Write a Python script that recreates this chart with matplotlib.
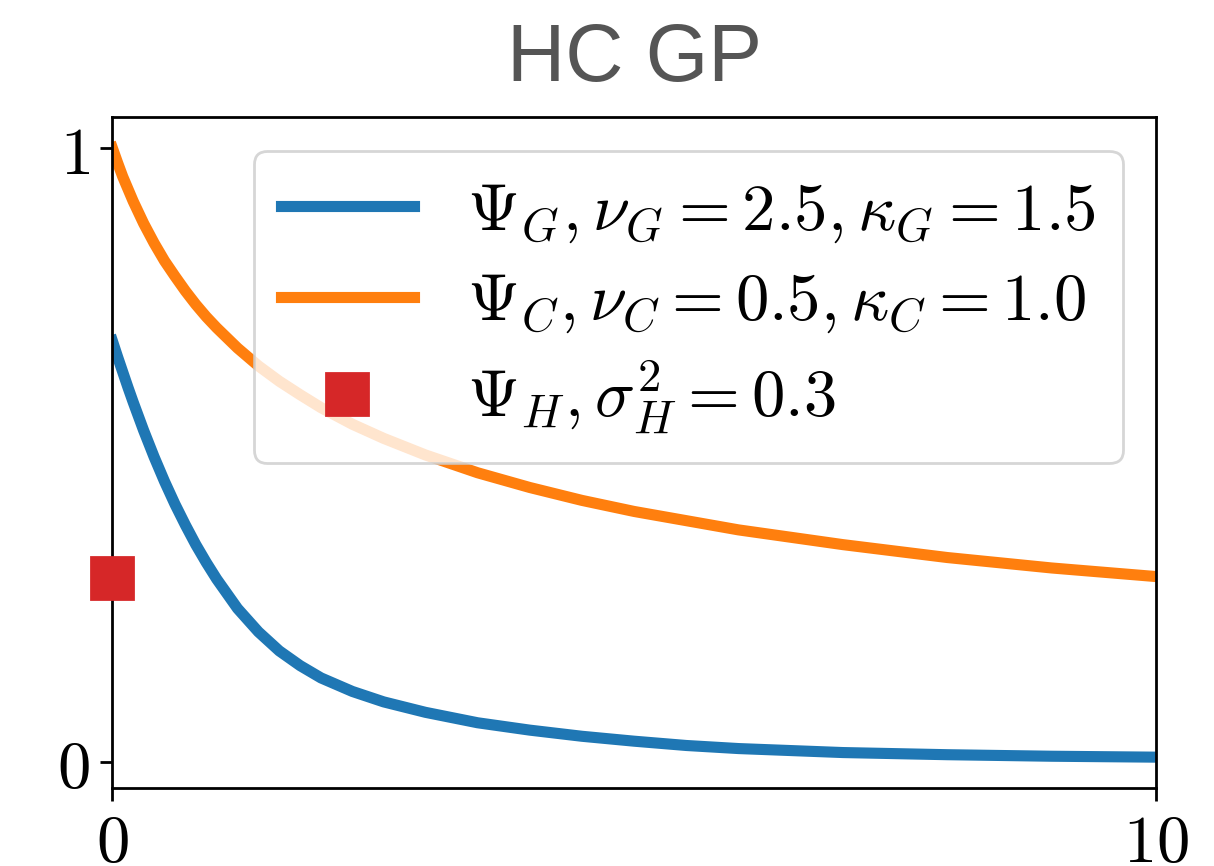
import matplotlib
matplotlib.use("Agg")
import matplotlib.pyplot as plt

plt.rcParams["mathtext.fontset"] = "cm"
plt.rcParams["font.size"] = 24

# values
x_g = [0.0, 0.05, 0.1, 0.15, 0.2, 0.3, 0.4, 0.5, 0.6, 0.7, 0.8, 0.9, 1.0,
       1.2, 1.4, 1.6, 1.8, 2.0, 2.3, 2.6, 3.0, 3.5, 4.0, 4.5, 5.0, 5.5, 6.0,
       7.0, 8.0, 9.0, 10.0]
psi_g = [0.686, 0.66, 0.635, 0.61, 0.586, 0.54, 0.497, 0.457, 0.42, 0.386,
         0.354, 0.325, 0.298, 0.25, 0.212, 0.181, 0.157, 0.137, 0.115, 0.098,
         0.081, 0.064, 0.052, 0.042, 0.034, 0.027, 0.022, 0.0155, 0.012,
         0.0095, 0.008]

x_c = [0.0, 0.05, 0.1, 0.15, 0.2, 0.3, 0.4, 0.5, 0.6, 0.7, 0.8, 0.9, 1.0,
       1.2, 1.4, 1.6, 1.8, 2.0, 2.3, 2.6, 3.0, 3.5, 4.0, 4.5, 5.0, 6.0, 7.0,
       8.0, 9.0, 10.0]
psi_c = [1.0, 0.976, 0.953, 0.933, 0.913, 0.877, 0.845, 0.816, 0.791, 0.767,
         0.745, 0.725, 0.707, 0.674, 0.645, 0.62, 0.598, 0.577, 0.55, 0.527,
         0.5, 0.471, 0.447, 0.426, 0.408, 0.378, 0.354, 0.333, 0.316, 0.302]

x_h = [0.0]
psi_h = [0.3]

labels = [r"$\Psi_G, \nu_G = 2.5, \kappa_G = 1.5$",
          r"$\Psi_C, \nu_C = 0.5, \kappa_C = 1.0$",
          r"$\Psi_H, \sigma^2_H = 0.3$"]

fig = plt.figure(figsize=(6.07, 4.33), dpi=200)
ax = fig.add_axes([0.0925, 0.0905, 0.8597, 0.774])

ax.plot(x_g, psi_g, color="tab:blue", lw=4, label=labels[0])
ax.plot(x_c, psi_c, color="tab:orange", lw=4, label=labels[1])
ax.plot(x_h, psi_h, "s", color="tab:red", markersize=15, clip_on=False,
        zorder=5, label=labels[2])

ax.set_xlim(0, 10)
ax.set_xticks([0, 10])
ax.set_xticklabels(["$0$", "$10$"])
ax.set_yticks([0, 1])
ax.set_yticklabels(["$0$", "$1$"])
ax.tick_params(length=4.5, width=1, labelsize=24)
for s in ax.spines.values():
    s.set_linewidth(1)

ax.legend(loc="upper right", fontsize=24, numpoints=1, labelspacing=0.35)
ax.set_title("HC GP", fontsize=29, color="#555555", family="Liberation Sans",
             pad=13)

fig.savefig("out.png", dpi=200)
